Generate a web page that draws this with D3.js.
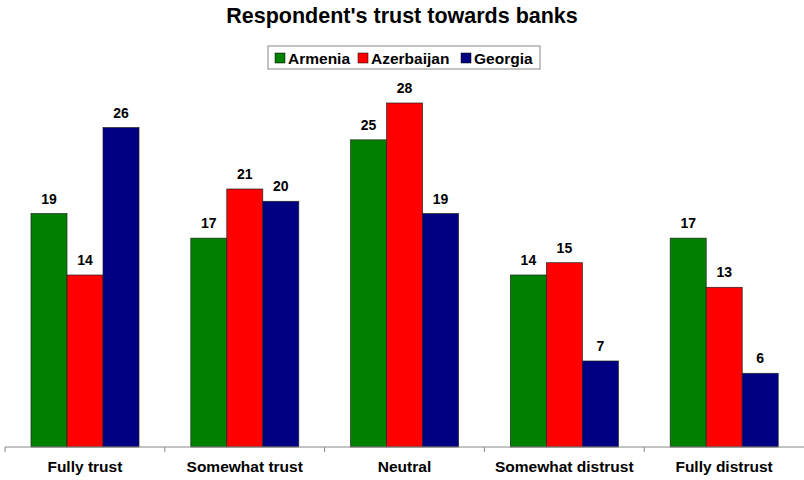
<!DOCTYPE html>
<html>
<head>
<meta charset="utf-8">
<script src="https://cdn.jsdelivr.net/npm/d3@7"></script>
<style>
  body { margin: 0; background: #fff; }
  text { font-family: "Liberation Sans", Arial, sans-serif; font-weight: bold; fill: #000; }
</style>
</head>
<body>
<div id="chart"></div>
<script>
// data
const categories = ["Fully trust", "Somewhat trust", "Neutral", "Somewhat distrust", "Fully distrust"];
const seriesNames = ["Armenia", "Azerbaijan", "Georgia"];
const armenia = [19, 17, 25, 14, 17];
const azerbaijan = [14, 21, 28, 15, 13];
const georgia = [26, 20, 19, 7, 6];
const colors = ["#008000", "#ff0000", "#000080"];

const width = 804, height = 480;
const margin = {left: 5, right: 0, top: 103, bottom: 33};
const baseY = height - margin.bottom;

const rows = categories.map((c, i) => ({cat: c, values: [armenia[i], azerbaijan[i], georgia[i]]}));

const svg = d3.select("#chart").append("svg")
  .attr("width", width)
  .attr("height", height);

const x0 = d3.scaleBand()
  .domain(categories)
  .range([margin.left, width - margin.right])
  .paddingInner(0)
  .paddingOuter(0);

const x1 = d3.scaleBand()
  .domain(seriesNames)
  .range([26, 134]);

const y = d3.scaleLinear()
  .domain([0, 28])
  .range([baseY, margin.top]);

// title
svg.append("text")
  .attr("x", width / 2)
  .attr("y", 23)
  .attr("text-anchor", "middle")
  .style("font-size", "21.5px")
  .text("Respondent's trust towards banks");

// legend
const legend = svg.append("g").attr("transform", "translate(268,46)");
legend.append("rect")
  .attr("width", 272).attr("height", 23)
  .attr("fill", "#fff").attr("stroke", "#888").attr("stroke-width", 1);
const legendX = [7, 90, 193];
seriesNames.forEach((s, i) => {
  legend.append("rect")
    .attr("x", legendX[i]).attr("y", 7)
    .attr("width", 10).attr("height", 10)
    .attr("fill", colors[i]).attr("stroke", "#000").attr("stroke-width", 0.5);
  legend.append("text")
    .attr("x", legendX[i] + 13).attr("y", 17.5)
    .style("font-size", "15.5px")
    .text(s);
});

// bars
const groups = svg.selectAll("g.grp")
  .data(rows)
  .join("g")
  .attr("class", "grp")
  .attr("transform", d => `translate(${x0(d.cat)},0)`);

groups.selectAll("rect")
  .data(d => d.values.map((v, i) => ({name: seriesNames[i], v: v, i: i})))
  .join("rect")
  .attr("x", d => x1(d.name))
  .attr("y", d => y(d.v))
  .attr("width", x1.bandwidth())
  .attr("height", d => baseY - y(d.v))
  .attr("fill", d => colors[d.i])
  .attr("stroke", "#222")
  .attr("stroke-width", 0.7);

groups.selectAll("text.val")
  .data(d => d.values.map((v, i) => ({name: seriesNames[i], v: v})))
  .join("text")
  .attr("class", "val")
  .attr("x", d => x1(d.name) + x1.bandwidth() / 2)
  .attr("y", d => y(d.v) - 10)
  .attr("text-anchor", "middle")
  .style("font-size", "14px")
  .text(d => d.v);

// x axis
const xAxis = svg.append("g").attr("transform", `translate(0,${baseY})`);
xAxis.append("line")
  .attr("x1", margin.left).attr("x2", width)
  .attr("stroke", "#888").attr("stroke-width", 1.2);
xAxis.selectAll("line.tick")
  .data(categories)
  .join("line")
  .attr("class", "tick")
  .attr("x1", d => x0(d)).attr("x2", d => x0(d))
  .attr("y1", 0).attr("y2", 5)
  .attr("stroke", "#888");
xAxis.selectAll("text")
  .data(categories)
  .join("text")
  .attr("x", d => x0(d) + x0.bandwidth() / 2)
  .attr("y", 25)
  .attr("text-anchor", "middle")
  .style("font-size", "15.5px")
  .text(d => d);
</script>
</body>
</html>
